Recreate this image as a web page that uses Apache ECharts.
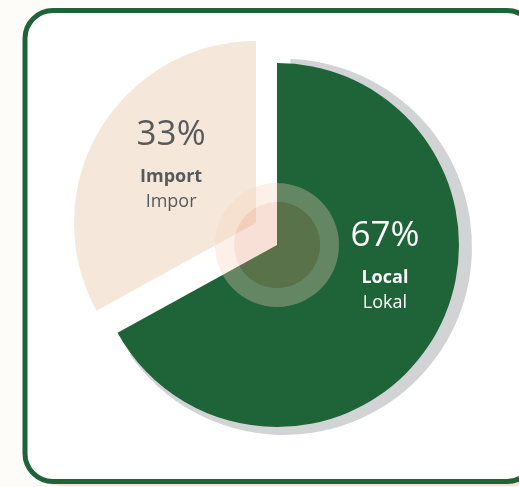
<!DOCTYPE html>
<html>
<head>
<meta charset="utf-8">
<script src="https://cdn.jsdelivr.net/npm/echarts@6/dist/echarts.min.js"></script>
<style>
html,body{margin:0;padding:0;background:#fefcf9;}
#chart{width:519px;height:487px;}
</style>
</head>
<body>
<div id="chart"></div>
<script>
// ---- data ----
const categories = ['Local', 'Import'];
const translations = ['Lokal', 'Impor'];
const values = [67, 33];

const GREEN = '#1f6439';
const PEACH = '#f6e7db';
const SHADOW = '#d1d3d4';

const chart = echarts.init(document.getElementById('chart'), null, {renderer: 'canvas'});

function makeData(showIdx, color, withLabel) {
  return categories.map((c, i) => ({
    name: c,
    value: values[i],
    itemStyle: {color: i === showIdx ? color : 'rgba(0,0,0,0)'},
    label: {show: withLabel && i === showIdx}
  }));
}

const rich = (col) => ({
  p: {fontSize: 35, fontFamily: 'Open Sans', color: col, lineHeight: 48, align: 'center'},
  b: {fontSize: 18, fontFamily: 'Open Sans', fontWeight: 'bold', color: col, lineHeight: 36, align: 'center'},
  n: {fontSize: 18, fontFamily: 'Open Sans', color: col, lineHeight: 14, align: 'center'}
});

const labelFmt = (p) => '{p|' + Math.round(p.percent) + '%}\n{b|' + p.name + '}\n{n|' + translations[p.dataIndex] + '}';

const base = {
  type: 'pie',
  startAngle: 90,
  clockwise: true,
  silent: true,
  animation: false,
  avoidLabelOverlap: false,
  labelLine: {show: false},
  emphasis: {disabled: true}
};

chart.setOption({
  animation: false,
  graphic: [
    {type: 'rect', z: -10, shape: {x: 32, y: 15, width: 510, height: 471, r: 28}, style: {fill: '#fde1cd'}},
    {type: 'rect', z: -9, shape: {x: 25, y: 10.5, width: 510, height: 471, r: 28}, style: {fill: '#ffffff', stroke: GREEN, lineWidth: 5}}
  ],
  series: [
    Object.assign({}, base, {
      name: 'shadow', center: [284, 247], radius: 188, startAngle: 92, padAngle: 8,
      data: makeData(0, SHADOW, false), label: {show: false}
    }),
    Object.assign({}, base, {
      name: 'import', center: [256, 223], radius: 182,
      data: makeData(1, PEACH, true),
      label: {position: 'inside', formatter: labelFmt, rich: rich('#58595b')},
      labelLayout: {dx: -4, dy: -15}
    }),
    Object.assign({}, base, {
      name: 'local', center: [277, 245], radius: 182,
      data: makeData(0, GREEN, true),
      label: {position: 'inside', formatter: labelFmt, rich: rich('#ffffff')},
      labelLayout: {dx: 27, dy: -32}
    }),
    Object.assign({}, base, {
      name: 'ring', center: [277, 245], radius: [43, 62],
      data: [{value: 1, itemStyle: {color: 'rgba(246,208,188,0.32)'}}], label: {show: false}
    }),
    Object.assign({}, base, {
      name: 'core', center: [277, 245], radius: [0, 43],
      data: [{value: 1, itemStyle: {color: 'rgba(234,148,112,0.29)'}}], label: {show: false}
    })
  ]
});
</script>
</body>
</html>
